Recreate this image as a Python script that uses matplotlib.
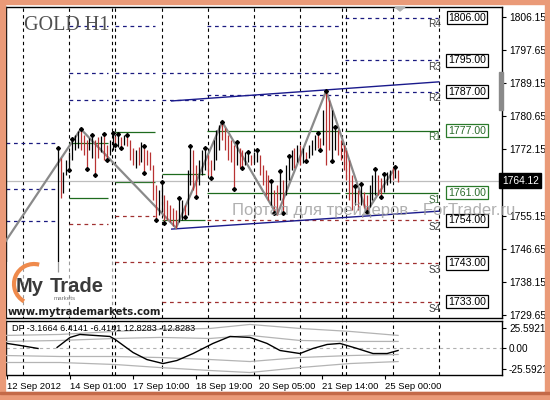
import matplotlib
matplotlib.use("Agg")
import matplotlib.pyplot as plt
from matplotlib.patches import Rectangle, Arc, Polygon

# ------------------------------------------------------------------ data
symbol_title = "GOLD H1"
first_bar = 12
highs = [1772.5, 1770.0, 1766.4, 1769.4, 1771.5, 1774.8, 1775.9, 1776.9, 1777.4, 1775.9,
         1774.6, 1775.1, 1775.9, 1774.6, 1775.3, 1775.6, 1776.1, 1773.3, 1774.6, 1776.4,
         1775.6, 1776.1, 1775.3, 1775.9, 1775.9, 1774.6, 1772.5, 1772.0, 1772.8, 1774.1,
         1773.0, 1772.0, 1771.5, 1768.2, 1763.0, 1761.7, 1763.8, 1760.5, 1759.2, 1757.9,
         1757.1, 1756.6, 1759.7, 1759.2, 1757.9, 1766.9, 1773.0, 1772.0, 1768.2, 1769.4,
         1772.0, 1772.5, 1770.7, 1769.4, 1774.6, 1777.1, 1778.4, 1779.2, 1777.7, 1775.9,
         1774.6, 1773.3, 1774.1, 1772.5, 1772.0, 1771.5, 1771.5, 1770.7, 1771.5, 1772.0,
         1770.7, 1768.2, 1766.9, 1765.6, 1764.0, 1761.7, 1763.0, 1766.6, 1764.3, 1768.2,
         1770.5, 1772.0, 1772.5, 1773.3, 1773.3, 1772.5, 1771.5, 1773.3, 1774.6, 1775.9,
         1776.4, 1775.1, 1782.3, 1787.2, 1784.8, 1782.3, 1777.9, 1777.1, 1774.6, 1773.3,
         1772.0, 1769.4, 1765.6, 1762.8, 1761.7, 1763.3, 1761.2, 1760.5, 1763.0, 1765.6,
         1767.1, 1765.6, 1764.8, 1765.8, 1766.4, 1766.9, 1767.6, 1767.6, 1766.9]
lows = [1740.7, 1759.7, 1761.0, 1765.6, 1766.9, 1769.4, 1772.0, 1772.5, 1772.0, 1770.7,
        1767.1, 1772.0, 1770.0, 1765.6, 1770.0, 1771.5, 1769.4, 1769.4, 1770.7, 1772.0,
        1773.3, 1772.8, 1772.5, 1773.3, 1773.0, 1769.4, 1768.2, 1767.4, 1768.2, 1768.9,
        1766.1, 1768.2, 1766.9, 1759.2, 1754.0, 1755.3, 1756.1, 1753.3, 1754.0, 1753.5,
        1752.5, 1752.0, 1753.5, 1754.0, 1754.8, 1755.3, 1763.0, 1761.7, 1759.9, 1763.0,
        1765.6, 1766.9, 1765.6, 1764.8, 1766.9, 1769.4, 1772.0, 1774.6, 1772.0, 1769.4,
        1768.9, 1762.0, 1768.2, 1767.4, 1767.4, 1768.2, 1768.9, 1768.2, 1768.7, 1768.9,
        1765.6, 1763.0, 1760.5, 1759.2, 1757.9, 1755.8, 1755.3, 1759.2, 1755.8, 1760.5,
        1764.3, 1766.9, 1767.4, 1768.9, 1768.2, 1768.7, 1769.2, 1770.0, 1770.7, 1772.0,
        1772.5, 1772.0, 1773.3, 1768.2, 1772.0, 1769.2, 1772.0, 1770.7, 1769.4, 1766.9,
        1764.3, 1759.2, 1756.6, 1757.9, 1756.6, 1757.9, 1757.1, 1756.1, 1757.4, 1759.2,
        1760.5, 1760.5, 1759.9, 1761.2, 1763.0, 1763.5, 1764.3, 1764.8, 1763.8]
bar_dirs = ("uduuuuuudd" "duuddudduu" "dududddudu" "ddddduuddd" "dduuduuddu"
            "uudduuuddd" "ddudduuduu" "dddduddudu" "uudududuuu" "ddudduuddd"
            "dddududduu" "udduuudud")
fractal_high_idx = [12, 17, 20, 24, 28, 31, 33, 36, 42, 48, 54, 58, 63, 69, 74, 78, 81,
                    86, 89, 92, 102, 105, 108, 115, 117, 122, 125, 129]
fractal_low_idx = [16, 22, 25, 29, 32, 34, 42, 46, 49, 56, 60, 65, 73, 76, 87, 90, 98,
                   103, 107, 119, 124]
zigzag_idx = [-6, 20, 53, 69, 88, 105, 119, 129]
zigzag_price = [1748.6, 1777.4, 1752.0, 1779.2, 1755.3, 1787.2, 1756.1, 1767.6]
channel_idx = [51.5, 144]
channel_upper = [1784.6, 1789.5]
channel_lower = [1751.7, 1756.3]
current_price = 1764.12

period_start = [-5.9, 15.9, 31.9, 48.1, 63.7, 111.5]
period_end = [11.8, 29.4, 45.7, 63.0, 109.8, 143.7]
res_levels = [[1773.8, 1762.0, 1753.8], [1803.8, 1791.8, 1784.8], [1803.8, 1791.8, 1784.8],
              [1791.8, 1784.8], [1803.8, 1791.8, 1786.2], [1806, 1795, 1787]]
mid_levels = [[], [1773.8, 1759.7], [1776.6, 1763.8], [1765.8, 1754.0],
              [1776.9, 1760.9], [1777, 1761]]
sup_levels = [[], [1753.0], [1755.1, 1743.3], [1743.3, 1733.0],
              [1754.0, 1743.3, 1733.0], [1754, 1743, 1733]]
level_names = ["R4", "R3", "R2", "R1", "S1", "S2", "S3", "S4"]
level_values = [1806, 1795, 1787, 1777, 1761, 1754, 1743, 1733]

price_ticks = [1806.15, 1797.65, 1789.15, 1780.65, 1772.15, 1755.15, 1746.65, 1738.15, 1729.65]
date_labels = ["12 Sep 2012", "14 Sep 01:00", "17 Sep 10:00", "18 Sep 19:00",
               "20 Sep 05:00", "21 Sep 14:00", "25 Sep 00:00"]

df_text = "DF -3.1664 6.4141 -6.4141 12.8283 -12.8283"
df_idx = [-5.5, -1.0, 5.2, None, 11.8, 16.3, 19.7, 30.1, 31.9, 38.1, 42.9, 48.5, 53.3,
          58.9, 65.8, 71.7, 78.6, 84.5, 89.0, 95.9, 100.4, 105.3, 109.8, 115.7, 121.2,
          126.1, 129.9]
df_val = [6.3, 3.8, 0.0, None, 1.3, 13.8, 17.5, 15.0, 11.3, -5.0, -13.8, -18.8, -15.0,
          -6.3, 6.3, 15.0, 13.8, 6.3, -2.5, -6.3, 0.0, 5.0, 6.3, 0.0, -6.3, -6.3, -2.5]
band_idx = [-5.9, 12.8, 31.9, 47.4, 64.8, 78.6, 95.9, 113.2, 129.9]
band_top = [16.3, 17.5, 21.3, 23.8, 25.0, 30.0, 25.0, 21.3, 16.3]
band_upper = [8.8, 10.0, 12.5, 13.8, 12.5, 16.3, 10.0, 8.8, 8.8]
band_lower = [-8.8, -10.0, -10.0, -11.3, -13.8, -16.3, -11.3, -8.8, -7.5]
band_bottom = [-17.5, -17.5, -20.0, -23.8, -27.5, -30.0, -23.8, -18.8, -16.3]
df_ticks = [25.5921, 0.0, -25.5921]
df_ticklabels = ["25.5921", "0.00", "-25.5921"]

# ------------------------------------------------------------------ layout
W, H = 550, 400
plt.rcParams['font.family'] = ['Liberation Sans', 'DejaVu Sans']
fig = plt.figure(figsize=(W / 100, H / 100), dpi=100, facecolor='white')

def fbox(x0, y0, x1, y1):
    return [x0 / W, 1 - y1 / H, (x1 - x0) / W, (y1 - y0) / H]

PX0, PSTEP = 23.0, 2.8875          # pixel of bar 0, pixels per bar
def px2i(px):
    return (px - PX0) / PSTEP

XL, XR = px2i(6), px2i(502)

ax = fig.add_axes(fbox(6, 7, 502, 318))
ax2 = fig.add_axes(fbox(6, 321, 502, 375))
for a in (ax, ax2):
    a.set_xlim(XL, XR)
    for s in a.spines.values():
        s.set_color('black')
        s.set_linewidth(1.0)
    a.set_facecolor('white')

ax.set_ylim(1728.87, 1808.72)
ax2.set_ylim(-33.1, 34.3)

# vertical grid
grid_pos = [16 * k for k in range(10)] + [px2i(112), px2i(342)]
for g in grid_pos:
    for a in (ax, ax2):
        a.axvline(g, color='black', lw=0.8, ls=(0, (3, 3)), zorder=1)

# pivot levels
for s, e, rl, ml, sl in zip(period_start, period_end, res_levels, mid_levels, sup_levels):
    for v in rl:
        ax.hlines(v, s, e, colors='#1a1a80', lw=0.9, linestyles=(0, (3, 3)), zorder=2)
    for v in ml:
        ax.hlines(v, s, e, colors='#1e6b1e', lw=0.9, zorder=2)
    for v in sl:
        ax.hlines(v, s, e, colors='#a03030', lw=0.9, linestyles=(0, (3, 3)), zorder=2)

# current price line
ax.axhline(current_price, color='#bdbdbd', lw=0.9, zorder=2)

# channel
ax.plot(channel_idx, channel_upper, color='#1a1a8c', lw=1.0, zorder=3)
ax.plot(channel_idx, channel_lower, color='#1a1a8c', lw=1.0, zorder=3)

# zigzag
ax.plot(zigzag_idx, zigzag_price, color='#8a8a8a', lw=1.6, zorder=3, solid_joinstyle='miter')

# bars
idx = list(range(first_bar, first_bar + len(highs)))
cols = ['black' if d == 'u' else '#b83232' for d in bar_dirs]
ax.vlines(idx, lows, highs, colors=cols, lw=0.9, zorder=4)

# fractals
ax.plot(fractal_high_idx, [highs[i - first_bar] for i in fractal_high_idx], 'D',
        color='black', ms=2.0, zorder=5)
ax.plot(fractal_low_idx, [lows[i - first_bar] for i in fractal_low_idx], 'D',
        color='black', ms=2.0, zorder=5)

# pivot labels for last period
box_x = px2i(467)
name_x = px2i(435)
for n, v in zip(level_names, level_values):
    green = n in ("R1", "S1")
    ec = '#2a7a2a' if green else 'black'
    tc = '#2a6a2a' if green else 'black'
    ax.text(box_x, v, f"{v:.2f}", ha='center', va='center', fontsize=7.6, color=tc,
            zorder=6, bbox=dict(boxstyle='square,pad=0.15', fc='white', ec=ec, lw=0.9))
    ax.text(name_x, v - 1.75, n, ha='center', va='center', fontsize=7.2,
            color='#3d6b3d' if green else '#404040', zorder=6)

# price axis
ax.yaxis.tick_right()
ax.set_yticks(price_ticks)
ax.set_yticklabels([f"{t:.2f}" for t in price_ticks])
ax.tick_params(axis='y', length=3, width=0.8, pad=2, labelsize=7.4, colors='black')
ax.set_xticks([])
ax.text(1.0, current_price, f"{current_price:.2f}", transform=ax.get_yaxis_transform(),
        ha='left', va='center', fontsize=7.4, color='white', zorder=7, clip_on=False,
        bbox=dict(boxstyle='square,pad=0.25', fc='black', ec='black'))

# indicator
ax2.axhline(0, color='#b0b0b0', lw=0.8, ls=(0, (3, 3)), zorder=2)
for band in (band_top, band_upper, band_lower, band_bottom):
    ax2.plot(band_idx, band, color='#b4b4b4', lw=0.9, zorder=3)
seg_x, seg_y = [], []
for xv, yv in list(zip(df_idx, df_val)) + [(None, None)]:
    if xv is None:
        if seg_x:
            ax2.plot(seg_x, seg_y, color='black', lw=1.0, zorder=4)
        seg_x, seg_y = [], []
    else:
        seg_x.append(xv)
        seg_y.append(yv)
ax2.text(px2i(12), 30.5, df_text, fontsize=6.6, ha='left', va='top', zorder=6)
ax2.yaxis.tick_right()
ax2.set_yticks(df_ticks)
ax2.set_yticklabels(df_ticklabels)
ax2.tick_params(axis='y', length=3, width=0.8, pad=2, labelsize=7.2)
label_step = px2i(70) - px2i(7)
tick_pos = [px2i(7) + k * label_step for k in range(len(date_labels))]
ax2.set_xticks(tick_pos)
ax2.set_xticklabels(date_labels, ha='left', fontsize=6.8)
ax2.tick_params(axis='x', length=3, width=0.8, pad=2)

# ------------------------------------------------------------------ overlay decorations
ov = fig.add_axes([0, 0, 1, 1])
ov.set_xlim(0, W)
ov.set_ylim(H, 0)
ov.axis('off')
ov.set_zorder(10)
ov.patch.set_alpha(0)

ov.text(24, 26, symbol_title, fontfamily='Liberation Serif', fontsize=14.5,
        color='#505050', va='center', ha='left')
ov.text(232, 210, "Портал для трейдеров - ForTrader.ru", fontsize=12, color='#9c9c9c',
        alpha=0.8, va='center', ha='left')

# logo
ov.add_patch(Rectangle((7, 262), 106, 55, fc='white', ec='none', alpha=0.6))
ov.add_patch(Arc((34, 284), 40, 40, theta1=120, theta2=285, color='#ef8a4c', lw=3))
ov.text(16, 292, "My", fontsize=14.5, fontweight='bold', color='#3a3a3a', ha='left', va='baseline')
ov.text(50, 292, "Trade", fontsize=14.5, fontweight='bold', color='#3a3a3a', ha='left', va='baseline')
ov.text(54, 298, "markets", fontsize=4.5, color='#777777', ha='left', va='center')
ov.text(8, 312, "www.mytrademarkets.com", fontsize=7.3, fontweight='bold',
        fontfamily='DejaVu Sans', color='#202020', ha='left', va='center')

# scroll marker and shift triangle
ov.add_patch(Rectangle((499, 72), 4, 38, color='#8a8a8a'))
ov.add_patch(Polygon([(395, 7), (405, 7), (400, 11)], color='#b0b0b0'))

# orange frame
fc = '#ea9a78'
ov.add_patch(Rectangle((0, 0), 5, H, color=fc))
ov.add_patch(Rectangle((W - 5, 0), 5, H, color=fc))
ov.add_patch(Rectangle((0, 0), W, 4, color=fc))
ov.add_patch(Rectangle((0, 392), W, 8, color=fc))
ov.add_patch(Rectangle((0, 392), W, 2, color='#c46a48'))

fig.savefig("out.png", dpi=100, facecolor='white')
